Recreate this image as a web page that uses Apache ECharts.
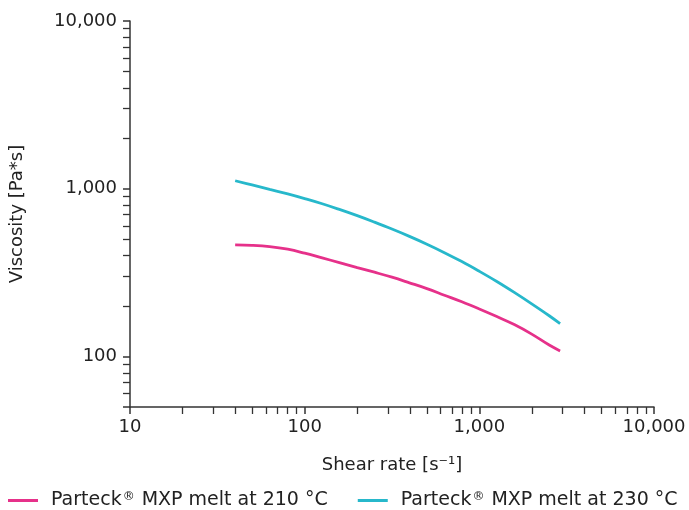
<!DOCTYPE html>
<html>
<head>
<meta charset="utf-8">
<style>
  html, body { margin: 0; padding: 0; background: #fff; }
  #chart { width: 689px; height: 510px; }
</style>
<script src="https://cdn.jsdelivr.net/npm/echarts@6/dist/echarts.min.js"></script>
</head>
<body>
<div id="chart"></div>
<script>
// Shear rates [1/s] at which viscosity was sampled
const shearRates = [40, 50, 63, 80, 100, 126, 158, 200, 251, 316, 398, 501, 631, 794, 1000, 1259, 1585, 1995, 2512, 2900];
// Viscosity [Pa*s] of the melt at 210 °C
const visc210 = [463, 460, 452, 436, 413, 387, 363, 339, 318, 297, 275, 254, 232, 212, 192, 173, 155, 136, 117, 108];
// Viscosity [Pa*s] of the melt at 230 °C
const visc230 = [1116, 1054, 992, 932, 874, 814, 753, 691, 632, 575, 520, 467, 416, 368, 322, 280, 241, 206, 175, 157];

const seriesNames = ['Parteck® MXP melt at 210 °C', 'Parteck® MXP melt at 230 °C'];
const seriesColors = ['#E6318A', '#27B8CB'];

const FONT = 'DejaVu Sans';
const TEXT_COLOR = '#222222';
const AXIS_COLOR = '#333333';

function pairs(xs, ys) {
  return xs.map((x, i) => [x, ys[i]]);
}

const fmtThousands = v => Math.round(v).toLocaleString('en-US');

const axisCommon = {
  type: 'log',
  logBase: 10,
  nameLocation: 'middle',
  nameTextStyle: { fontFamily: FONT, fontSize: 18, color: TEXT_COLOR },
  axisLine: { show: true, lineStyle: { color: AXIS_COLOR, width: 1.5 } },
  axisTick: { show: true, length: 7, lineStyle: { color: AXIS_COLOR, width: 1.5 } },
  minorTick: { show: true, splitNumber: 9, length: 7, lineStyle: { color: AXIS_COLOR, width: 1.3 } },
  splitLine: { show: false },
  minorSplitLine: { show: false }
};

const chart = echarts.init(document.getElementById('chart'), null, { renderer: 'canvas' });

chart.setOption({
  animation: false,
  backgroundColor: '#ffffff',
  grid: { left: 130, right: 35, top: 21, bottom: 103 },
  legend: {
    bottom: 0,
    left: 8,
    padding: 0,
    itemWidth: 30,
    itemHeight: 3,
    itemGap: 30,
    icon: 'rect',
    textStyle: {
      fontFamily: FONT, fontSize: 19, color: TEXT_COLOR,
      rich: {
        f: { fontFamily: FONT, fontSize: 19, color: TEXT_COLOR, padding: [0, 0, 0, 8] },
        a: { fontFamily: FONT, fontSize: 19, color: TEXT_COLOR },
        r: { fontFamily: FONT, fontSize: 12, color: TEXT_COLOR, verticalAlign: 'top', padding: [0, 1, 6, 1] }
      }
    },
    formatter: name => {
      const parts = name.split('®');
      return '{f|' + parts[0] + '}{r|®}{a|' + parts[1] + '}';
    },
    data: seriesNames
  },
  xAxis: Object.assign({}, axisCommon, {
    min: 10,
    max: 10000,
    name: 'Shear rate [s⁻¹]',
    nameGap: 49,
    axisLabel: { fontFamily: FONT, fontSize: 18, color: TEXT_COLOR, margin: 11, formatter: fmtThousands }
  }),
  yAxis: Object.assign({}, axisCommon, {
    min: 50,
    max: 10000,
    name: 'Viscosity [Pa*s]',
    nameGap: 104,
    axisLabel: { fontFamily: FONT, fontSize: 18, color: TEXT_COLOR, margin: 13, showMinLabel: false, formatter: fmtThousands }
  }),
  series: [
    {
      name: seriesNames[0],
      type: 'line',
      data: pairs(shearRates, visc210),
      showSymbol: false,
      smooth: 0.4,
      color: seriesColors[0],
      lineStyle: { width: 2.8, color: seriesColors[0] }
    },
    {
      name: seriesNames[1],
      type: 'line',
      data: pairs(shearRates, visc230),
      showSymbol: false,
      smooth: 0.4,
      color: seriesColors[1],
      lineStyle: { width: 2.8, color: seriesColors[1] }
    }
  ]
});
</script>
</body>
</html>
